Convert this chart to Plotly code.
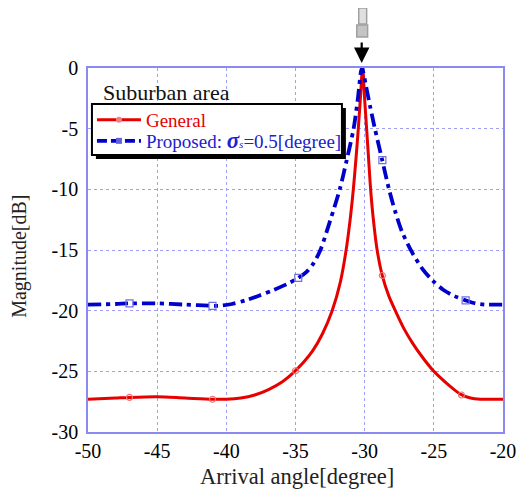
import plotly.graph_objects as go

# ---- data ----
general_x = [-50, -48, -47, -45, -43, -41, -40, -38.95, -37.95, -36.95, -35.95, -35.15, -34.45, -33.75,
             -33.05, -32.35, -31.75, -31.34, -31.05, -30.82, -30.63, -30.46, -30.31, -30.15,
             -30.0, -29.86, -29.72, -29.57, -29.37, -29.1, -28.75, -28.25, -27.7, -27.15, -26.55,
             -25.85, -25.15, -24.45, -23.75, -23.05, -22.35, -21.65, -21.0, -20.0]
general_y = [-27.3, -27.2, -27.15, -27.1, -27.2, -27.3, -27.3, -27.2, -26.95, -26.5, -25.85, -25.1, -24.3,
             -23.3, -21.9, -20.0, -17.6, -15.0, -12.5, -10.0, -7.5, -5.0, -2.5, 0.0,
             -2.6, -5.0, -7.4, -10.0, -12.5, -15.0, -17.0, -18.8, -20.2, -21.5, -22.65,
             -23.8, -24.8, -25.6, -26.3, -26.9, -27.2, -27.3, -27.3, -27.3]
general_mx = [-47, -41, -35, -28.72, -23]
general_my = [-27.15, -27.3, -24.95, -17.1, -26.95]

proposed_x = [-50, -48, -47, -45, -43, -41, -40.5, -39.6, -38.6, -37.6, -36.6, -35.6, -34.8, -34.2, -33.7,
              -33.2, -32.5, -31.8, -31.3, -30.8, -30.5, -30.2, -29.9, -29.6, -29.26, -28.75, -28.24,
              -27.8, -27.3, -26.57, -25.8, -25.1, -24.3, -23.5, -22.7, -22.0, -21.3, -20.0]
proposed_y = [-19.5, -19.45, -19.4, -19.4, -19.5, -19.6, -19.6, -19.45, -19.15, -18.75, -18.3, -17.8,
              -17.3, -16.8, -16.1, -15.0, -12.6, -10.0, -7.6, -5.0, -2.6, 0.0, -1.5, -3.2, -5.0,
              -7.5, -10.0, -11.8, -13.5, -15.2, -16.6, -17.5, -18.3, -18.8, -19.15, -19.4, -19.5, -19.5]
proposed_mx = [-47, -41, -34.8, -28.72, -22.7]
proposed_my = [-19.4, -19.6, -17.3, -7.6, -19.15]

x_ticks = [-50, -45, -40, -35, -30, -25, -20]
y_ticks = [0, -5, -10, -15, -20, -25, -30]

RED = "#e60000"
BLUE = "#0000cc"
GRID = "#9f9ff5"
FRAME = "#8a8af0"
FONT = "Liberation Serif, Times New Roman, serif"

fig = go.Figure()

fig.add_trace(go.Scatter(x=general_x, y=general_y, mode="lines",
                         line=dict(color=RED, width=3, shape="spline", smoothing=0.8),
                         showlegend=False))
fig.add_trace(go.Scatter(x=proposed_x, y=proposed_y, mode="lines",
                         line=dict(color=BLUE, width=3.8, shape="spline", smoothing=0.8,
                                   dash="13px,5px,4px,5px"),
                         showlegend=False))
fig.add_trace(go.Scatter(x=general_mx, y=general_my, mode="markers",
                         marker=dict(symbol="circle-open", size=6, color="#f07070", line=dict(width=1.2)),
                         showlegend=False))
fig.add_trace(go.Scatter(x=proposed_mx, y=proposed_my, mode="markers",
                         marker=dict(symbol="square-open", size=7, color="#7070e0", line=dict(width=1.2)),
                         showlegend=False))
# legend entries (each in its own legend for exact placement)
fig.add_trace(go.Scatter(x=[None], y=[None], mode="lines+markers", legend="legend",
                         name="<span style='color:#e60000'>General</span>",
                         line=dict(color=RED, width=3),
                         marker=dict(symbol="circle", size=6, color="#f08080")))
fig.add_trace(go.Scatter(x=[None], y=[None], mode="lines+markers", legend="legend2",
                         name="<span style='color:#2020d0'>Proposed: <span style='font-size:23px'><b><i>σ</i></b></span>"
                              "<span style='font-size:11px'><i>s</i></span>=0.5[degree]</span>",
                         line=dict(color=BLUE, width=3.8, dash="10px,4px"),
                         marker=dict(symbol="square", size=6, color="#6060e0")))

# page has an 8px body margin: figure 520x482 placed at (8,8)
OFF = 8
W, H = 520, 482
pw, ph = 420, 364
L, T = 88 - OFF, 68 - OFF
R, B = W - L - pw, H - T - ph


def px2paper(px, py):
    """page pixel -> paper coords"""
    return (px - 88) / pw, (432 - py) / ph


sx0, sy0 = px2paper(96, 108)
sx1, sy1 = px2paper(349, 159)
bx0, by0 = px2paper(92, 104)
bx1, by1 = px2paper(345, 155)
shapes = [
    dict(type="rect", xref="paper", yref="paper", x0=sx0, y0=sy1, x1=sx1, y1=sy0,
         fillcolor="black", line=dict(width=0), layer="above"),
    dict(type="rect", xref="paper", yref="paper", x0=bx0, y0=by1, x1=bx1, y1=by0,
         fillcolor="white", line=dict(color="black", width=2), layer="above"),
]

# phone icon (simple gray drawing)
ph0 = px2paper(362, 8); ph1 = px2paper(370, 24)
shapes.append(dict(type="rect", xref="paper", yref="paper", x0=ph0[0], y0=ph1[1], x1=ph1[0], y1=ph0[1],
                   fillcolor="#e0e0e0", line=dict(color="#a0a0a0", width=1.5)))
pb0 = px2paper(360, 25); pb1 = px2paper(371, 37)
shapes.append(dict(type="rect", xref="paper", yref="paper", x0=pb0[0], y0=pb1[1], x1=pb1[0], y1=pb0[1],
                   fillcolor="#c4c4c4", line=dict(color="#a0a0a0", width=1.5)))

sa = px2paper(101, 92)
xt = px2paper(300, 476)
yt = px2paper(19, 256)
ar = px2paper(365, 63)
annotations = [
    dict(text="Suburban area", xref="paper", yref="paper", x=sa[0], y=sa[1],
         xanchor="left", yanchor="middle", showarrow=False, font=dict(family=FONT, size=22, color="#111111")),
    dict(text="Arrival angle[degree]", xref="paper", yref="paper", x=xt[0], y=xt[1],
         xanchor="center", yanchor="middle", showarrow=False,
         font=dict(family=FONT, size=22.5, color="#222222")),
    dict(text="Magnitude[dB]", xref="paper", yref="paper", x=yt[0], y=yt[1],
         xanchor="center", yanchor="middle", showarrow=False, textangle=-90,
         font=dict(family=FONT, size=20, color="#222222")),
    dict(x=ar[0], y=ar[1], xref="paper", yref="paper",
         ax=0, ay=-22, axref="pixel", ayref="pixel", text="", showarrow=True,
         arrowhead=2, arrowsize=1.4, arrowwidth=2.2, arrowcolor="black"),
]

l1 = px2paper(92, 120)
l2 = px2paper(92, 141)
leg_common = dict(xanchor="left", yanchor="middle", bgcolor="rgba(0,0,0,0)", borderwidth=0,
                  font=dict(family=FONT, size=19), itemwidth=44)

fig.update_layout(
    width=W, height=H,
    margin=dict(l=L, r=R, t=T, b=B),
    paper_bgcolor="white", plot_bgcolor="white",
    font=dict(family=FONT, size=19, color="black"),
    showlegend=True,
    legend=dict(x=l1[0], y=l1[1], **leg_common),
    legend2=dict(x=l2[0], y=l2[1], **leg_common),
    shapes=shapes,
    annotations=annotations,
)
fig.update_xaxes(range=[-50, -20], tickvals=x_ticks, ticktext=[str(v) for v in x_ticks],
                 showgrid=True, gridcolor=GRID, griddash="dot", gridwidth=1.2,
                 showline=True, linecolor=FRAME, linewidth=1.5, mirror=True, zeroline=False,
                 ticks="", ticklabelstandoff=0, tickfont=dict(family=FONT, size=20, color="black"))
fig.update_yaxes(range=[-30, 0], tickvals=y_ticks, ticktext=[str(v) for v in y_ticks],
                 showgrid=True, gridcolor=GRID, griddash="dot", gridwidth=1.2,
                 showline=True, linecolor=FRAME, linewidth=1.5, mirror=True, zeroline=False,
                 ticks="", ticklabelstandoff=4, tickfont=dict(family=FONT, size=20, color="black"))

fig.write_html("out.html")
